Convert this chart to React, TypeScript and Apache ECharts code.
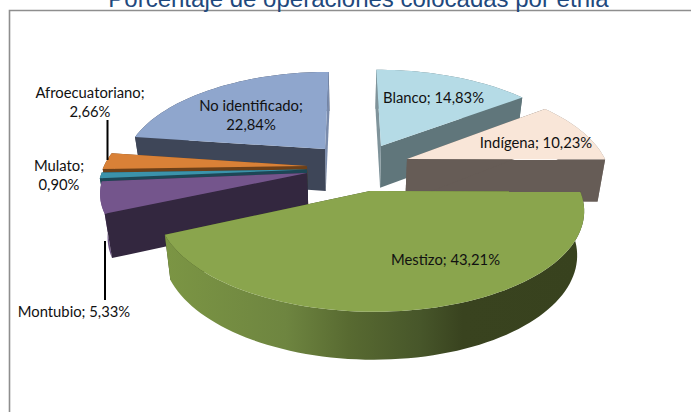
import React, { useEffect, useRef } from "react";
import * as echarts from "echarts";

const TITLE = "Porcentaje de operaciones colocadas por etnia";
const categories = ["Blanco", "Indígena", "Mestizo", "Montubio", "Mulato", "Afroecuatoriano", "No identificado"];
const values = [14.83, 10.23, 43.21, 5.33, 0.9, 2.66, 22.84];
const drawOrder = [6, 5, 4, 3, 0, 1, 2];

type Wall = string | object;
const mestizoWall = {
  type: "linear", x: 160, y: 0, x2: 580, y2: 0, global: true,
  colorStops: [
    { offset: 0, color: "#7c9644" },
    { offset: 0.3, color: "#6e8540" },
    { offset: 0.45, color: "#586a31" },
    { offset: 0.62, color: "#47562a" },
    { offset: 0.72, color: "#39431f" },
    { offset: 1, color: "#38421e" },
  ],
};
const sliceStyles: { ax: number; ay: number; a: number; b: number; top: string; start: string; end: string; wall: Wall; wallOnTop?: boolean }[] = [
  { ax: 381, ay: 146, a: 199, b: 90, top: "#b5dbe6", start: "#7f939a", end: "#60767b", wall: "#60767b" },
  { ax: 407, ay: 159, a: 198, b: 93, top: "#f9e6d8", start: "#665c56", end: "#665c56", wall: "#8d8580" },
  { ax: 370, ay: 191, a: 210, b: 99, top: "#8aa54d", start: "#39431f", end: "#39431f", wall: mestizoWall, wallOnTop: true },
  { ax: 307, ay: 173, a: 202, b: 92, top: "#74558c", start: "#33273f", end: "#33273f", wall: "#6e5486" },
  { ax: 307, ay: 169.5, a: 204, b: 98, top: "#3b93ab", start: "#1d4756", end: "#1d4756", wall: "#1d4756" },
  { ax: 307, ay: 166, a: 203, b: 97, top: "#d98137", start: "#6c4019", end: "#6c4019", wall: "#6c4019" },
  { ax: 325, ay: 149, a: 197, b: 91, top: "#8fa6cd", start: "#3e4658", end: "#7a8bab", wall: "#3e4658" },
];
const labelLayout: { x: number; y: number; twoLines?: boolean; leader?: number[] }[] = [
  { x: 433.5, y: 97 },
  { x: 536, y: 142 },
  { x: 445.5, y: 259 },
  { x: 74, y: 311, leader: [105, 241, 105, 300] },
  { x: 59, y: 165, twoLines: true },
  { x: 90, y: 92, twoLines: true, leader: [107.5, 120, 107.5, 160] },
  { x: 251, y: 105, twoLines: true },
];

const VX = 350;
const P = 0.18;
const N_STEP = 2;

function topPoint(i: number, theta: number, r: number) {
  const s = sliceStyles[i];
  const u = Math.sin(theta);
  const v = -Math.cos(theta);
  const k = 1 / (1 - P * v * r);
  return [s.ax + (s.ax - VX) * (k - 1) + s.a * u * r * k, s.ay + s.b * v * r * k];
}
function bottomOf(p: number[]) {
  return [VX + (p[0] - VX) * 0.97, p[1] + 42 + (p[1] - 150) * 0.037];
}

function renderItem(_params: any, api: any) {
  const i = api.value(0);
  const value = values[i];
  let before = 0;
  for (let j = 0; j < i; j++) before += values[j];
  const total = values.reduce((t, x) => t + x, 0);
  const t0 = (before / total) * Math.PI * 2;
  const t1 = ((before + value) / total) * Math.PI * 2;
  const s = sliceStyles[i];
  const l = labelLayout[i];

  const arc: number[][] = [];
  const steps = Math.max(2, Math.ceil(((t1 - t0) * 180) / Math.PI / N_STEP));
  for (let n = 0; n <= steps; n++) arc.push(topPoint(i, t0 + ((t1 - t0) * n) / steps, 1));
  const apex = topPoint(i, 0, 0);
  const arcBottom = arc.map(bottomOf);
  const apexBottom = bottomOf(apex);
  const poly = (points: number[][], fill: Wall) => ({
    type: "polygon",
    shape: { points },
    style: { fill, stroke: "none" },
  });

  const pct = value.toFixed(2).replace(".", ",") + "%";
  const name = categories[i] + ";";
  const wall = poly([...arc, ...arcBottom.slice().reverse()], s.wall);
  const faces = [
    poly([apex, arc[steps], arcBottom[steps], apexBottom], s.end),
    poly([apex, arc[0], arcBottom[0], apexBottom], s.start),
  ];
  const children: any[] = s.wallOnTop ? [...faces, wall] : [wall, ...faces];
  children.push(poly([apex, ...arc], s.top));
  if (l.leader) {
    children.push({
      type: "line",
      shape: { x1: l.leader[0], y1: l.leader[1], x2: l.leader[2], y2: l.leader[3] },
      style: { stroke: "#000000", lineWidth: 2 },
    });
  }
  const text = (str: string, y: number) => ({
    type: "text",
    style: {
      text: str, x: l.x, y, fill: "#111111", font: '14.8px Lato, sans-serif',
      textAlign: "center", textVerticalAlign: "middle",
    },
  });
  if (l.twoLines) {
    children.push(text(name, l.y), text(pct, l.y + 19));
  } else {
    children.push(text(name + " " + pct, l.y));
  }
  return { type: "group", children };
}

export default function App() {
  const ref = useRef<HTMLDivElement>(null);
  useEffect(() => {
    const chart = echarts.init(ref.current!, undefined, { renderer: "svg" });
    chart.setOption({
      animation: false,
      backgroundColor: "#ffffff",
      title: {
        text: TITLE,
        left: 353.5,
        top: -19,
        textAlign: "center",
        textStyle: { fontFamily: '"Liberation Sans", Arial, sans-serif', fontSize: 24, fontWeight: "normal", color: "#1f497d" },
      },
      graphic: [
        {
          type: "rect",
          z: -1,
          shape: { x: 9.5, y: 10.5, width: 900, height: 700 },
          style: { fill: "#ffffff", stroke: "#8e8e8e", lineWidth: 1.6 },
        },
      ],
      series: [
        {
          type: "custom",
          coordinateSystem: "none",
          silent: true,
          renderItem,
          data: drawOrder.map((i) => [i]),
        },
      ],
    });
    return () => chart.dispose();
  }, []);
  return <div ref={ref} style={{ position: "fixed", left: 0, top: 0, width: 691, height: 412, overflow: "hidden" }} />;
}
